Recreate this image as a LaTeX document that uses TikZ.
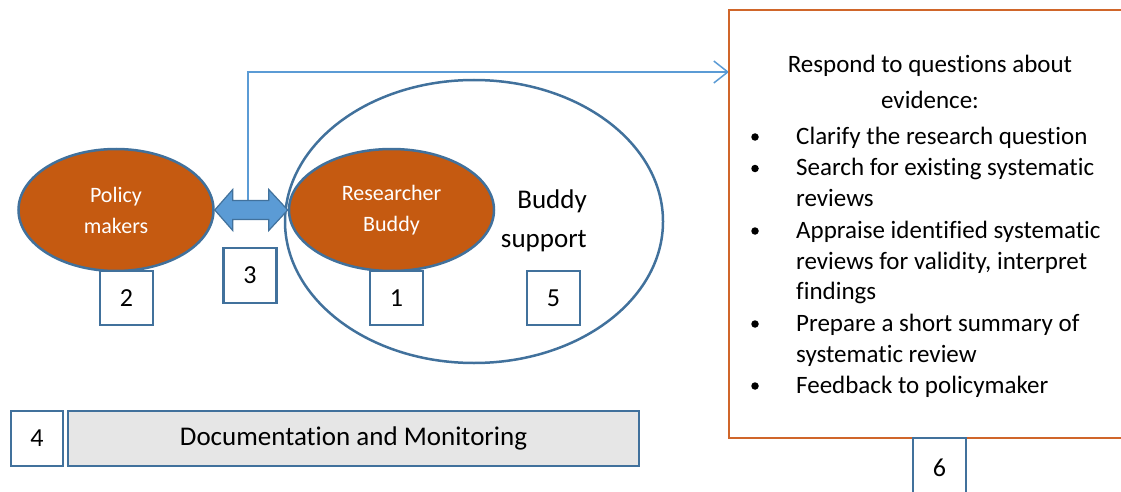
\documentclass[tikz,border=0pt]{standalone}
\usepackage{fontspec}
\setmainfont{Carlito}[Ligatures={NoCommon,NoContextual},RawFeature={-liga;-clig;-calt}]
\usetikzlibrary{calc,arrows.meta,shapes.geometric}
\definecolor{orng}{HTML}{C55A11}
\definecolor{bord}{HTML}{41719C}
\definecolor{lblue}{HTML}{5B9BD5}
\definecolor{obord}{HTML}{D0662A}
\definecolor{gfill}{HTML}{E6E6E6}
\begin{document}
\begin{tikzpicture}[x=1pt,y=-1pt,
  ell/.style={ellipse, draw=bord, line width=2.5pt, fill=orng, text=white, align=center,
    inner sep=0pt, minimum height=122pt, font=\fontsize{22}{31}\selectfont},
  numbox/.style={draw=bord, line width=2.5pt, fill=white, minimum width=53pt,
    minimum height=54pt, inner sep=0pt, font=\fontsize{26}{30}\selectfont},
  txt/.style={inner sep=0pt, anchor=base, font=\fontsize{25}{31}\selectfont},
  itm/.style={inner sep=0pt, anchor=base west, font=\fontsize{25}{31}\selectfont},
  bul/.style={circle, fill=black, inner sep=0pt, minimum size=7.5pt},
  conn/.style={draw=lblue, line width=1.5pt, -{Straight Barb[length=14pt,width=22pt,line width=1.5pt]}},
  dblarr/.style={fill=lblue, draw=bord, line width=1.2pt, line join=miter}
]
\useasboundingbox (0,0) rectangle (1121,492);
\clip (0,0) rectangle (1121,492);

% big ellipse (buddy support)
\node[ellipse, draw=bord, line width=2.5pt, fill=white, minimum width=378pt,
      minimum height=283pt, inner sep=0pt] (bs) at (474,221.5) {};
\node[anchor=base east, inner sep=0pt, font=\fontsize{27}{39}\selectfont] (bsl1) at (587,208) {Buddy};
\node[anchor=base east, inner sep=0pt, font=\fontsize{27}{39}\selectfont] (bsl2) at (587,247) {support};

% orange ellipses
\node[ell, minimum width=205pt] (rb) at (391.5,210) {Researcher\\Buddy};
\node[ell, minimum width=195pt] (pm) at (116,210) {Policy\\makers};

% connector to the response box
\coordinate (st) at (248,200);
\coordinate (tip) at (729,72);
\draw[conn] (st) |- (tip);

% double arrow between the ellipses
\draw[dblarr] (pm.east) -- ++(18,-20.5) -- ++(0,11) -- ($(rb.west)+(-19,-9.5)$)
  -- ++(0,-11) -- (rb.west) -- ++(-19,20.5) -- ++(0,-11)
  -- ($(pm.east)+(18,9.5)$) -- ++(0,11) -- cycle;

% number boxes
\node[numbox] (n2) at (126.5,298) {2};
\node[numbox, minimum height=55pt] (n3) at (250,275.5) {3};
\node[numbox] (n1) at (396.5,298) {1};
\node[numbox] (n5) at (553.5,298) {5};
\node[numbox, minimum width=52pt, minimum height=55pt] (n4) at (37,438.5) {4};
\node[draw=bord, line width=2.5pt, fill=gfill, minimum width=571pt, minimum height=55pt,
      inner sep=0pt, font=\fontsize{27}{30}\selectfont] (doc) at (353.5,438.5)
      {Documentation and Monitoring};

% response box
\node[draw=obord, line width=2.5pt, fill=white, minimum width=406pt, minimum height=428pt,
      inner sep=0pt] (resp) at (932,224) {};
\node[numbox, minimum height=60pt] (n6) at (939.5,468) {6};

\node[txt] (t1) at (930,73) {Respond to questions about};
\node[txt] (t2) at (930,108.5) {evidence:};

\node[itm] (i1) at (796,144) {Clarify the research question};
\node[itm] (i2) at (796,175.5) {Search for existing systematic};
\node[itm] (i3) at (796,206.5) {reviews};
\node[itm] (i4) at (796,238) {Appraise identified systematic};
\node[itm] (i5) at (796,269) {reviews for validity, interpret};
\node[itm] (i6) at (796,299.5) {findings};
\node[itm] (i7) at (796,331) {Prepare a short summary of};
\node[itm] (i8) at (796,362) {systematic review};
\node[itm] (i9) at (796,393) {Feedback to policymaker};

\node[bul] (b1) at (755,137) {};
\node[bul] (b2) at (755,168.5) {};
\node[bul] (b3) at (755,231) {};
\node[bul] (b4) at (755,324) {};
\node[bul] (b5) at (755,386) {};
\end{tikzpicture}
\end{document}
